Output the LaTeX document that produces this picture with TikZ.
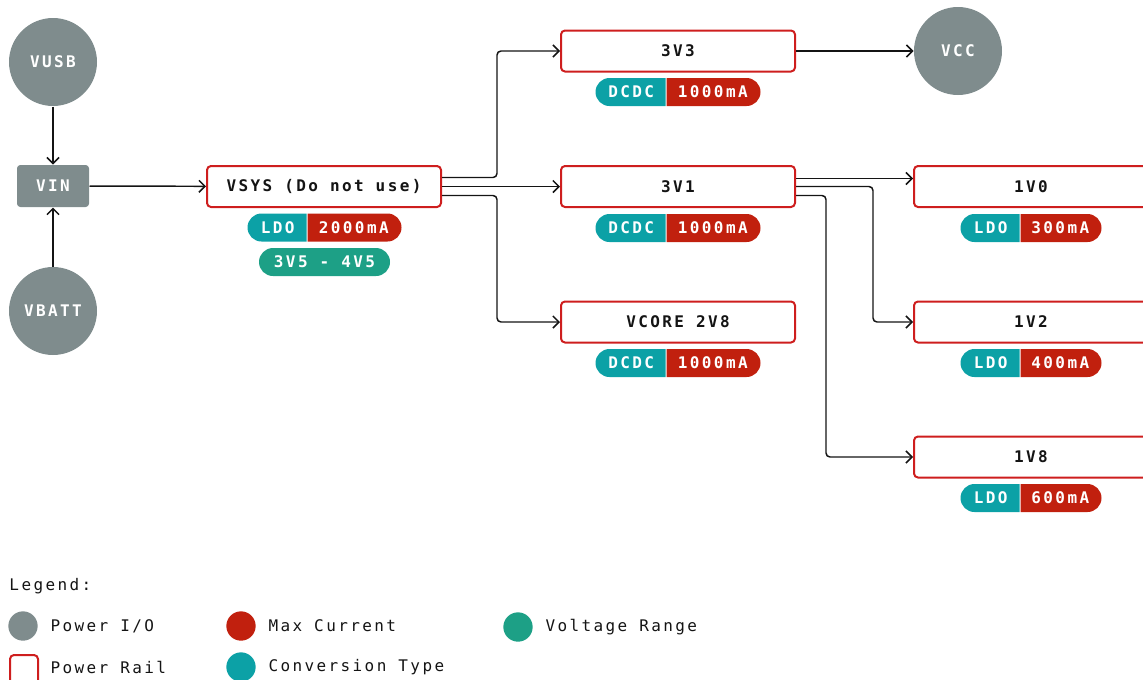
\documentclass[tikz,border=0pt]{standalone}
\usepackage{fontspec}
\newfontfamily\railfont[LetterSpace=15]{DejaVu Sans Mono}
\usetikzlibrary{arrows.meta,calc,shapes.misc}

\definecolor{ioGray}{RGB}{127,140,141}
\definecolor{railRed}{RGB}{206,30,30}
\definecolor{maxRed}{RGB}{193,32,14}
\definecolor{convTeal}{RGB}{12,161,166}
\definecolor{rangeGreen}{RGB}{29,160,134}
\definecolor{inkBlack}{RGB}{20,20,20}

\tikzset{every picture/.style={line width=0.75pt}}
\tikzset{
  lbl/.style={font=\railfont\bfseries\fontsize{12}{14}\selectfont},
  legtext/.style={font=\railfont\fontsize{12}{14}\selectfont, text=inkBlack, anchor=west, inner sep=0pt},
  ionode/.style={lbl, circle, fill=ioGray, text=white, minimum size=66pt, inner sep=0pt},
  vinbox/.style={lbl, rectangle, rounded corners=2.5pt, fill=ioGray, text=white, minimum width=54pt, minimum height=31.5pt, inner sep=0pt},
  railbox/.style={lbl, rectangle, rounded corners=3pt, draw=railRed, line width=1.5pt, fill=white, text=inkBlack, minimum width=175.5pt, minimum height=30.75pt, inner sep=0pt},
  convpill/.style={lbl, rounded rectangle, rounded rectangle right arc=none, fill=convTeal, text=white, minimum height=21pt, inner sep=0pt, anchor=east},
  maxpill/.style={lbl, rounded rectangle, rounded rectangle left arc=none, fill=maxRed, text=white, minimum height=21pt, inner sep=0pt, anchor=west},
  rangepill/.style={lbl, rounded rectangle, fill=rangeGreen, text=white, minimum height=21pt, minimum width=98.25pt, inner sep=0pt},
  wire/.style={draw=inkBlack, line width=1.1pt, rounded corners=3pt, -{Straight Barb[length=4.5pt,width=9pt]}},
  legdot/.style={circle, minimum size=22pt, inner sep=0pt}
}

\begin{document}
\begin{tikzpicture}[x=0.75pt,y=0.75pt,yscale=-1,xscale=1]
\useasboundingbox (0,0) rectangle (1143,679);

%Shape: Power inputs
\node[ionode] (vusb) at (53,62) {VUSB};
\node[vinbox] (vin) at (53,186) {VIN};
\node[ionode] (vbatt) at (53,311) {VBATT};

%Shape: System rail
\node[railbox] (vsys) at (324,186.5) {VSYS (Do not use)};
\node[convpill, minimum width=44.25pt] (vsysconv) at (307,227.5) {LDO};
\node[maxpill, minimum width=70.5pt] (vsysmax) at (307,227.5) {2000mA};
\node[rangepill] (vsysrange) at (324.5,262) {3V5 - 4V5};

%Shape: DCDC rails
\node[railbox] (r3v3) at (678,51) {3V3};
\node[convpill, minimum width=52.5pt] (r3v3conv) at (666,92) {DCDC};
\node[maxpill, minimum width=70.5pt] (r3v3max) at (666,92) {1000mA};
\node[ionode] (vcc) at (958,51) {VCC};

\node[railbox] (r3v1) at (678,186.5) {3V1};
\node[convpill, minimum width=52.5pt] (r3v1conv) at (666,228) {DCDC};
\node[maxpill, minimum width=70.5pt] (r3v1max) at (666,228) {1000mA};

\node[railbox] (vcore) at (678,322) {VCORE 2V8};
\node[convpill, minimum width=52.5pt] (vcoreconv) at (666,363) {DCDC};
\node[maxpill, minimum width=70.5pt] (vcoremax) at (666,363) {1000mA};

%Shape: LDO rails
\node[railbox] (r1v0) at (1031,186.5) {1V0};
\node[convpill, minimum width=44.25pt] (r1v0conv) at (1020,228) {LDO};
\node[maxpill, minimum width=60.75pt] (r1v0max) at (1020,228) {300mA};

\node[railbox] (r1v2) at (1031,322) {1V2};
\node[convpill, minimum width=44.25pt] (r1v2conv) at (1020,363) {LDO};
\node[maxpill, minimum width=60.75pt] (r1v2max) at (1020,363) {400mA};

\node[railbox] (r1v8) at (1031,457) {1V8};
\node[convpill, minimum width=44.25pt] (r1v8conv) at (1020,498) {LDO};
\node[maxpill, minimum width=60.75pt] (r1v8max) at (1020,498) {600mA};

%Straight Lines
\draw[wire] (vusb) -- (vin);
\draw[wire] (vbatt) -- (vin);
\draw[wire] (vin) -- (vsys);
\draw[wire] ($(vsys.east)+(0,-9)$) -- ++(55,0) |- (r3v3.west);
\draw[wire] (vsys.east) -- (vsys.east -| r3v1.west);
\draw[wire] ($(vsys.east)+(0,9)$) -- ++(55,0) |- (vcore.west);
\draw[wire] (r3v3) -- (vcc);
\draw[wire] ($(r3v1.east)+(0,-8)$) -- ($(r1v0.west)+(0,-8)$);
\draw[wire] (r3v1.east) -- ++(77,0) |- (r1v2.west);
\draw[wire] ($(r3v1.east)+(0,9)$) -- ++(30,0) |- (r1v8.west);

% Legend
\node[legtext] (legtitle) at (9,586) {Legend:};
\node[legdot, fill=ioGray] (legio) at (23,626) {};
\node[legtext] (legiotext) at (50,626) {Power I/O};
\node[legdot, fill=maxRed] (legmax) at (241,626) {};
\node[legtext] (legmaxtext) at (268,626) {Max Current};
\node[legdot, fill=rangeGreen] (legrange) at (518,627) {};
\node[legtext] (legrangetext) at (545,627) {Voltage Range};
\draw[draw=railRed, line width=1.5pt, rounded corners=3pt] (10,655) rectangle (38,695);
\node[legtext] (legrailtext) at (50,667) {Power Rail};
\node[legdot, fill=convTeal] (legconv) at (241,667) {};
\node[legtext] (legconvtext) at (268,667) {Conversion Type};

\end{tikzpicture}
\end{document}
